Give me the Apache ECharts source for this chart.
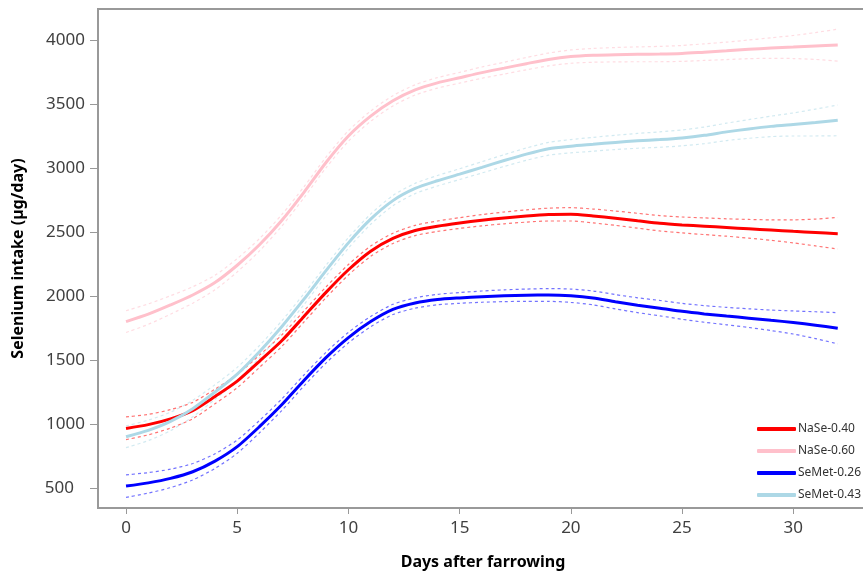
<!DOCTYPE html>
<html>
<head>
<meta charset="utf-8">
<script src="https://cdn.jsdelivr.net/npm/echarts@6/dist/echarts.min.js"></script>
<style>html,body{margin:0;padding:0;background:#fff}#c{width:863px;height:572px}</style>
</head>
<body>
<div id="c"></div>
<script>
const days = [0,1,2,3,4,5,6,7,8,9,10,11,12,13,14,15,16,17,18,19,20,21,22,23,24,25,26,27,28,29,30,31,32];
const xTicks = [0,5,10,15,20,25,30];
const yTicks = [500,1000,1500,2000,2500,3000,3500,4000];
const seriesNames = ['NaSe-0.40','NaSe-0.60','SeMet-0.26','SeMet-0.43'];

const nase040 = [965,995,1040,1105,1215,1335,1490,1650,1840,2030,2205,2350,2450,2512,2545,2570,2592,2610,2625,2636,2638,2625,2608,2588,2568,2555,2545,2535,2525,2515,2505,2496,2487];
const nase040Upper = [1055,1075,1112,1169,1272,1387,1538,1695,1883,2072,2246,2390,2490,2552,2586,2612,2636,2656,2673,2686,2690,2679,2664,2646,2628,2617,2610,2603,2598,2595,2595,2601,2615];
const nase040Lower = [878,915,968,1041,1158,1283,1442,1605,1797,1988,2164,2310,2410,2472,2504,2528,2548,2564,2577,2586,2586,2571,2552,2530,2508,2493,2480,2467,2452,2435,2415,2391,2367];

const nase060 = [1800,1858,1930,2008,2105,2240,2400,2590,2810,3045,3250,3405,3525,3610,3665,3705,3745,3780,3815,3848,3870,3880,3885,3888,3890,3895,3905,3915,3927,3937,3945,3953,3960];
const nase060Upper = [1885,1938,2002,2072,2162,2292,2448,2635,2853,3087,3291,3445,3565,3650,3706,3747,3789,3826,3863,3898,3922,3934,3941,3946,3950,3957,3970,3983,4000,4017,4035,4058,4085];
const nase060Lower = [1715,1778,1858,1944,2048,2188,2352,2545,2767,3003,3209,3365,3485,3570,3624,3663,3701,3734,3767,3798,3818,3826,3829,3830,3830,3833,3840,3847,3854,3857,3855,3848,3835];

const semet026 = [515,540,575,627,710,823,979,1150,1340,1520,1675,1800,1895,1945,1972,1985,1995,2002,2006,2008,2002,1985,1955,1928,1905,1880,1860,1843,1827,1810,1793,1772,1748];
const semet026Upper = [603,620,647,691,767,875,1027,1195,1383,1562,1716,1840,1935,1985,2013,2027,2039,2048,2054,2058,2054,2039,2011,1986,1965,1942,1925,1911,1900,1890,1883,1877,1870];
const semet026Lower = [427,460,503,563,653,771,931,1105,1297,1478,1634,1760,1855,1905,1931,1943,1951,1956,1958,1958,1950,1931,1899,1870,1845,1818,1795,1775,1754,1730,1703,1667,1626];

const semet043 = [900,950,1020,1120,1250,1390,1565,1760,1975,2200,2415,2600,2745,2840,2900,2952,3005,3058,3108,3150,3170,3185,3200,3212,3222,3235,3255,3282,3305,3325,3340,3355,3372];
const semet043Upper = [985,1030,1092,1184,1307,1442,1613,1805,2018,2242,2456,2640,2785,2880,2941,2994,3049,3104,3156,3200,3222,3239,3256,3270,3282,3297,3320,3350,3378,3405,3430,3460,3492];
const semet043Lower = [815,870,948,1056,1193,1338,1517,1715,1932,2158,2374,2560,2705,2800,2859,2910,2961,3012,3060,3100,3118,3131,3144,3154,3162,3173,3190,3214,3232,3245,3250,3250,3252];

const colors = ['#ff0000','#ffc0cb','#0000ff','#add8e6'];
const means = [nase040, nase060, semet026, semet043];
const uppers = [nase040Upper, nase060Upper, semet026Upper, semet043Upper];
const lowers = [nase040Lower, nase060Lower, semet026Lower, semet043Lower];

const pairs = arr => days.map((d,i)=>[d, arr[i]]);
const series = [];
for (let k=0;k<4;k++){
  [uppers[k], lowers[k]].forEach((arr,j)=>{
    series.push({
      name: seriesNames[k] + (j===0?' upper':' lower'),
      type:'line', smooth:0.25, symbol:'none', silent:true, z:1,
      data: pairs(arr),
      lineStyle:{color:colors[k], width:1.2, type:[3,3], opacity:0.55}
    });
  });
}
for (let k=0;k<4;k++){
  series.push({
    name: seriesNames[k], type:'line', smooth:0.25, symbol:'none', z:3,
    data: pairs(means[k]),
    itemStyle:{color:colors[k]},
    lineStyle:{color:colors[k], width:3}
  });
}

const chart = echarts.init(document.getElementById('c'), null, {renderer:'canvas'});
const FONT = 'Noto Sans';
chart.setOption({
  animation:false,
  backgroundColor:'#fff',
  grid:{left:98, top:9, right:-5, bottom:64, containLabel:false, outerBoundsMode:'none',
        show:true, borderColor:'#999', borderWidth:2},
  legend:{
    data: seriesNames, orient:'vertical', left:752, top:418, itemGap:10,
    itemWidth:39, itemHeight:4, icon:'roundRect',
    textStyle:{fontFamily:FONT, fontSize:12, color:'#333', padding:[0,0,0,-3]}
  },
  xAxis:{
    type:'value', min:-1.26, max:33.36,
    name:'Days after farrowing', nameLocation:'middle', nameGap:46,
    nameTextStyle:{fontFamily:FONT, fontSize:16, fontWeight:'bold', color:'#000'},
    axisLine:{show:true, onZero:false, lineStyle:{color:'#999', width:2}},
    axisTick:{show:true, length:6, customValues:xTicks, lineStyle:{color:'#999'}},
    axisLabel:{customValues:xTicks, margin:12, fontFamily:FONT, fontSize:17, color:'#404040'},
    splitLine:{show:false}
  },
  yAxis:{
    type:'value', min:343.75, max:4242,
    name:'Selenium intake (µg/day)', nameLocation:'middle', nameGap:72,
    nameTextStyle:{fontFamily:FONT, fontSize:16, fontWeight:'bold', color:'#000'},
    axisLine:{show:true, onZero:false, lineStyle:{color:'#999', width:2}},
    axisTick:{show:true, length:8, customValues:yTicks, lineStyle:{color:'#999'}},
    axisLabel:{customValues:yTicks, margin:13, fontFamily:FONT, fontSize:17, color:'#404040',
      formatter: v => v===500 ? '{a|500}' : String(v),
      rich:{a:{fontFamily:FONT, fontSize:17, color:'#404040', padding:[0,11,0,0]}}
    },
    splitLine:{show:false}
  },
  series: series
});
</script>
</body>
</html>
